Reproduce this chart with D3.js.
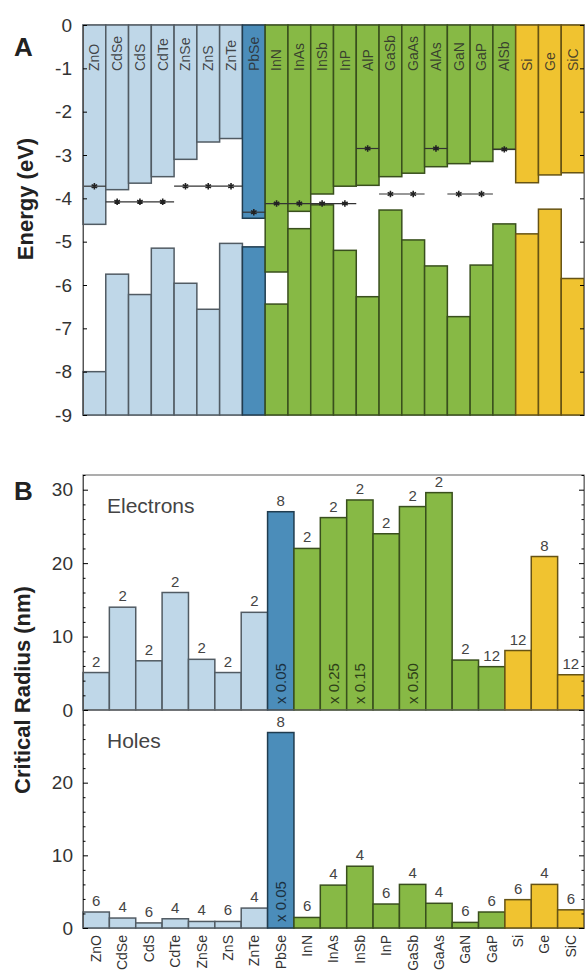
<!DOCTYPE html>
<html>
<head>
<meta charset="utf-8">
<script src="https://cdn.jsdelivr.net/npm/d3@7"></script>
<style>
  body { margin: 0; background: #fff; }
  text { font-family: "Liberation Sans", Arial, sans-serif; }
</style>
</head>
<body>
<div id="root"></div>
<script>
// panel A: band edges (eV)
const materialsA = ["ZnO","CdSe","CdS","CdTe","ZnSe","ZnS","ZnTe","PbSe","InN","InAs","InSb","InP","AlP","GaSb","GaAs","AlAs","GaN","GaP","AlSb","Si","Ge","SiC"];
const conductionBand = [-4.6,-3.8,-3.65,-3.5,-3.1,-2.7,-2.62,-4.46,-5.7,-4.3,-3.9,-3.72,-3.7,-3.5,-3.42,-3.27,-3.2,-3.15,-2.87,-3.64,-3.46,-3.41];
const valenceBand = [-8.0,-5.75,-6.22,-5.15,-5.96,-6.56,-5.04,-5.12,-6.44,-4.7,-4.15,-5.2,-6.27,-4.27,-4.96,-5.56,-6.73,-5.54,-4.59,-4.82,-4.25,-5.85];
const energyTicks = [0,-1,-2,-3,-4,-5,-6,-7,-8,-9];

// marker levels, one per group of materials
const levelGroups = [["ZnO"],["CdSe","CdS","CdTe"],["ZnSe","ZnS","ZnTe"],["PbSe"],["InN","InAs","InSb","InP"],["AlP"],["GaSb","GaAs"],["AlAs"],["GaN","GaP"],["AlSb"]];
const levelEnergy = [-3.72,-4.08,-3.72,-4.32,-4.12,-2.85,-3.9,-2.85,-3.9,-2.87];

// panel B: critical radius (nm)
const materialsB = ["ZnO","CdSe","CdS","CdTe","ZnSe","ZnS","ZnTe","PbSe","InN","InAs","InSb","InP","GaSb","GaAs","GaN","GaP","Si","Ge","SiC"];
const electronRadius = [5.1,14.0,6.7,16.0,6.9,5.1,13.3,27.0,22.0,26.2,28.6,24.0,27.7,29.6,6.8,5.9,8.1,20.9,4.8];
const electronLabel = ["2","2","2","2","2","2","2","8","2","2","2","2","2","2","2","12","12","8","12"];
const holeRadius = [2.2,1.37,0.7,1.27,0.9,0.9,2.74,26.9,1.45,5.9,8.5,3.3,6.0,3.4,0.77,2.2,3.9,6.0,2.5];
const holeLabel = ["6","4","6","4","4","6","4","8","6","4","4","6","4","4","6","6","6","4","6"];
const electronScaleMat = ["PbSe","InAs","InSb","GaSb"];
const electronScaleText = ["x 0.05","x 0.25","x 0.15","x 0.50"];
const holeScaleMat = ["PbSe"];
const holeScaleText = ["x 0.05"];
const radiusTicks = [0,10,20,30];

// material family
const familyOf = m => {
    if (["ZnO","CdSe","CdS","CdTe","ZnSe","ZnS","ZnTe"].includes(m)) return "II-VI";
    if (m === "PbSe") return "IV-VI";
    if (["Si","Ge","SiC"].includes(m)) return "IV";
    return "III-V";
};
const familyColor = { "II-VI": "#bfd7e8", "IV-VI": "#4b8dba", "III-V": "#87b945", "IV": "#f0c330" };
const fillOf = m => familyColor[familyOf(m)];
const strokeOf = m => d3.color(fillOf(m)).darker(2.4).formatHex();

const W = 586, H = 974;
const left = 83, right = 584;

let svg = d3.select("#root")
            .append("svg")
            .attr("width", W)
            .attr("height", H);

// ---------- panel A ----------
let xA = d3.scaleBand().domain(materialsA).range([left, right]);
let yA = d3.scaleLinear().domain([-9, 0]).range([415, 25]);

let gA = svg.append("g");

gA.append("rect")
    .attr("x", left).attr("y", yA(0))
    .attr("width", right - left).attr("height", yA(-9) - yA(0))
    .attr("fill", "none").attr("stroke", "#777").attr("stroke-width", 1.2);

let colA = gA.selectAll(".colA")
            .data(materialsA)
            .enter().append("g")
            .attr("class", "colA");

colA.append("rect")
    .attr("x", d => xA(d))
    .attr("y", yA(0))
    .attr("width", xA.bandwidth())
    .attr("height", (d, i) => yA(conductionBand[i]) - yA(0))
    .attr("fill", fillOf)
    .attr("stroke", strokeOf)
    .attr("stroke-width", 1.5);

colA.append("rect")
    .attr("x", d => xA(d))
    .attr("y", (d, i) => yA(valenceBand[i]))
    .attr("width", xA.bandwidth())
    .attr("height", (d, i) => yA(-9) - yA(valenceBand[i]))
    .attr("fill", fillOf)
    .attr("stroke", strokeOf)
    .attr("stroke-width", 1.5);

colA.append("text")
    .attr("transform", d => `translate(${xA(d) + xA.bandwidth() / 2}, 71) rotate(-90)`)
    .attr("dy", "0.35em")
    .style("font-size", "14px")
    .attr("fill", "#2a2a2a")
    .attr("fill-opacity", 0.85)
    .text(d => d);

// levels
let lev = gA.selectAll(".level")
            .data(levelGroups)
            .enter().append("g")
            .attr("class", "level");

lev.append("line")
    .attr("x1", d => xA(d[0]))
    .attr("x2", d => xA(d[d.length - 1]) + xA.bandwidth())
    .attr("y1", (d, i) => yA(levelEnergy[i]))
    .attr("y2", (d, i) => yA(levelEnergy[i]))
    .attr("stroke", "#333")
    .attr("stroke-width", 1.2);

lev.each(function(d, i) {
    d3.select(this).selectAll("path")
        .data(d)
        .enter().append("path")
        .attr("d", d3.symbol().type(d3.symbolAsterisk).size(28))
        .attr("transform", m => `translate(${xA(m) + xA.bandwidth() / 2}, ${yA(levelEnergy[i])})`)
        .attr("fill", "none")
        .attr("stroke", "#222")
        .attr("stroke-width", 1.6);
});

gA.append("g")
    .attr("transform", `translate(${left}, 0)`)
    .call(d3.axisLeft(yA).tickValues(energyTicks).tickFormat(d => String(d)).tickSize(-4).tickSizeOuter(0).tickPadding(11))
    .call(g => g.select(".domain").attr("stroke", "#555"))
    .call(g => g.selectAll("text").style("font-size", "19px").attr("fill", "#333"));

gA.append("g")
    .attr("transform", `translate(${right}, 0)`)
    .call(d3.axisRight(yA).tickValues(energyTicks).tickFormat("").tickSize(-4).tickSizeOuter(0))
    .call(g => g.select(".domain").attr("stroke", "#777"));

svg.append("text")
    .attr("x", 14).attr("y", 56)
    .style("font-size", "26px").style("font-weight", "bold")
    .attr("fill", "#222")
    .text("A");

svg.append("text")
    .attr("transform", "translate(25, 199) rotate(-90)")
    .attr("dy", "0.35em")
    .attr("text-anchor", "middle")
    .style("font-size", "22px").style("font-weight", "bold")
    .attr("fill", "#222")
    .text("Energy (eV)");

// ---------- panel B ----------
let xB = d3.scaleBand().domain(materialsB).range([left, right]);
let yE = d3.scaleLinear().domain([0, 32]).range([710, 475]);
let yH = d3.scaleLinear().domain([0, 30]).range([928, 710]);

let gB = svg.append("g");

gB.append("rect")
    .attr("x", left).attr("y", yE(32))
    .attr("width", right - left).attr("height", yH(0) - yE(32))
    .attr("fill", "none").attr("stroke", "#777").attr("stroke-width", 1.2);

function drawBars(sel, yScale, values, labels, scaleMats, scaleTexts) {
    let bar = sel.selectAll(".bar")
                 .data(materialsB)
                 .enter().append("g")
                 .attr("class", "bar");

    bar.append("rect")
        .attr("x", d => xB(d))
        .attr("y", (d, i) => yScale(values[i]))
        .attr("width", xB.bandwidth())
        .attr("height", (d, i) => yScale(0) - yScale(values[i]))
        .attr("fill", fillOf)
        .attr("stroke", strokeOf)
        .attr("stroke-width", 1.5);

    bar.append("text")
        .attr("x", d => xB(d) + xB.bandwidth() / 2)
        .attr("y", (d, i) => yScale(values[i]) - 6)
        .attr("text-anchor", "middle")
        .style("font-size", "15px")
        .attr("fill", "#444")
        .text((d, i) => labels[i]);

    sel.selectAll(".factor")
        .data(scaleMats)
        .enter().append("text")
        .attr("class", "factor")
        .attr("transform", d => `translate(${xB(d) + xB.bandwidth() / 2}, ${yScale(0) - 6}) rotate(-90)`)
        .attr("dy", "0.35em")
        .style("font-size", "15px")
        .attr("fill", d => d3.color(fillOf(d)).darker(3).formatHex())
        .text((d, i) => scaleTexts[i]);
}

drawBars(gB.append("g"), yE, electronRadius, electronLabel, electronScaleMat, electronScaleText);
drawBars(gB.append("g"), yH, holeRadius, holeLabel, holeScaleMat, holeScaleText);

gB.append("line")
    .attr("x1", left).attr("x2", right)
    .attr("y1", yE(0)).attr("y2", yE(0))
    .attr("stroke", "#666").attr("stroke-width", 1.2);

function radiusAxes(yScale, maxV, majors) {
    let minors = d3.range(0, maxV + 0.1, 2).filter(v => v % 10 !== 0);
    gB.append("g")
        .attr("transform", `translate(${left}, 0)`)
        .call(d3.axisLeft(yScale).tickValues(majors).tickSize(-5).tickSizeOuter(0).tickPadding(10))
        .call(g => g.select(".domain").attr("stroke", "#555"))
        .call(g => g.selectAll("text").style("font-size", "19px").attr("fill", "#333"));
    gB.append("g")
        .attr("transform", `translate(${left}, 0)`)
        .call(d3.axisLeft(yScale).tickValues(minors).tickFormat("").tickSize(-2.5).tickSizeOuter(0))
        .call(g => g.select(".domain").remove());
    gB.append("g")
        .attr("transform", `translate(${right}, 0)`)
        .call(d3.axisRight(yScale).tickValues(majors).tickFormat("").tickSize(-5).tickSizeOuter(0))
        .call(g => g.select(".domain").attr("stroke", "#777"));
    gB.append("g")
        .attr("transform", `translate(${right}, 0)`)
        .call(d3.axisRight(yScale).tickValues(minors).tickFormat("").tickSize(-2.5).tickSizeOuter(0))
        .call(g => g.select(".domain").remove());
}
radiusAxes(yE, 32, radiusTicks);
radiusAxes(yH, 29, radiusTicks.slice(0, 3));

gB.selectAll(".xlab")
    .data(materialsB)
    .enter().append("text")
    .attr("class", "xlab")
    .attr("transform", d => `translate(${xB(d) + xB.bandwidth() / 2}, 935) rotate(-90)`)
    .attr("dy", "0.35em")
    .attr("text-anchor", "end")
    .style("font-size", "14px")
    .attr("fill", "#333")
    .text(d => d);

svg.append("text")
    .attr("x", 107).attr("y", 513)
    .style("font-size", "21px")
    .attr("fill", "#444")
    .text("Electrons");

svg.append("text")
    .attr("x", 107).attr("y", 748)
    .style("font-size", "21px")
    .attr("fill", "#444")
    .text("Holes");

svg.append("text")
    .attr("x", 14).attr("y", 500)
    .style("font-size", "26px").style("font-weight", "bold")
    .attr("fill", "#222")
    .text("B");

svg.append("text")
    .attr("transform", "translate(22, 690) rotate(-90)")
    .attr("dy", "0.35em")
    .attr("text-anchor", "middle")
    .style("font-size", "22px").style("font-weight", "bold")
    .attr("fill", "#222")
    .text("Critical Radius (nm)");
</script>
</body>
</html>
